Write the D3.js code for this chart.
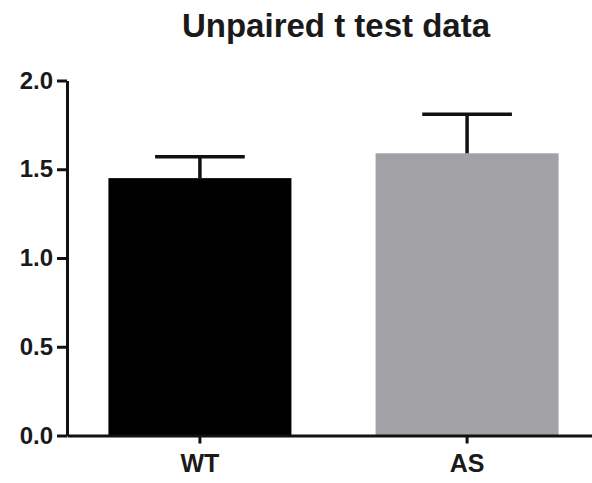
<!DOCTYPE html>
<html>
<head>
<meta charset="utf-8">
<script src="https://cdn.jsdelivr.net/npm/d3@7"></script>
<style>
  body { margin: 0; background: #fff; }
  svg { display: block; }
  text { font-family: "Liberation Sans", Arial, sans-serif; font-weight: bold; fill: #1a1a1a; }
</style>
</head>
<body>
<div id="chart"></div>
<script>
// data
var groups = ["WT", "AS"]
var means = [1.45, 1.59]
var sems = [0.12, 0.22]
var barColors = ["#000000", "#a2a1a6"]
var yTicks = [0, 0.5, 1.0, 1.5, 2.0]
var chartTitle = "Unpaired t test data"

var width = 592, height = 483

var svg = d3.select("#chart")
	.append("svg")
	.attr("width", width)
	.attr("height", height)

var x = d3.scaleBand()
	.domain(groups)
	.range([67, 600])
	.paddingInner(0.315)
	.paddingOuter(0.155)

var y = d3.scaleLinear()
	.domain([0, 2])
	.range([435.5, 80.5])

var rows = groups.map(function(g, i){
	return {name: g, mean: means[i], sem: sems[i], color: barColors[i]}
})

// bars
svg.selectAll(".bar")
	.data(rows)
	.enter()
	.append("rect")
	.attr("class", "bar")
	.attr("x", function(d){ return x(d.name) })
	.attr("width", x.bandwidth())
	.attr("y", function(d){ return y(d.mean) })
	.attr("height", function(d){ return y(0) - y(d.mean) })
	.attr("fill", function(d){ return d.color })

// error bars (upper only)
var capHalf = x.bandwidth() * 0.245
var err = svg.selectAll(".err")
	.data(rows)
	.enter()
	.append("g")
	.attr("class", "err")
	.attr("stroke", "#111")
	.attr("stroke-width", 3.5)

err.append("line")
	.attr("x1", function(d){ return x(d.name) + x.bandwidth() / 2 })
	.attr("x2", function(d){ return x(d.name) + x.bandwidth() / 2 })
	.attr("y1", function(d){ return y(d.mean) })
	.attr("y2", function(d){ return y(d.mean + d.sem) })

err.append("line")
	.attr("x1", function(d){ return x(d.name) + x.bandwidth() / 2 - capHalf })
	.attr("x2", function(d){ return x(d.name) + x.bandwidth() / 2 + capHalf })
	.attr("y1", function(d){ return y(d.mean + d.sem) })
	.attr("y2", function(d){ return y(d.mean + d.sem) })

// axes
var yAxis = svg.append("g")
	.attr("transform", "translate(67,0)")
	.call(d3.axisLeft(y).tickValues(yTicks).tickFormat(d3.format(".1f")).tickSize(10).tickSizeOuter(0).tickPadding(4))

var xAxis = svg.append("g")
	.attr("transform", "translate(0," + y(0) + ")")
	.call(d3.axisBottom(x).tickSize(8).tickSizeOuter(0).tickPadding(11))

svg.selectAll(".domain, .tick line")
	.attr("stroke", "#111")
	.attr("stroke-width", 3)

yAxis.selectAll("text")
	.style("font-size", "24px")
	.attr("fill", "#1a1a1a")

xAxis.selectAll("text")
	.style("font-size", "25px")
	.attr("fill", "#1a1a1a")

// title
svg.append("text")
	.attr("x", 336)
	.attr("y", 37)
	.attr("text-anchor", "middle")
	.style("font-size", "33px")
	.text(chartTitle)
</script>
</body>
</html>
